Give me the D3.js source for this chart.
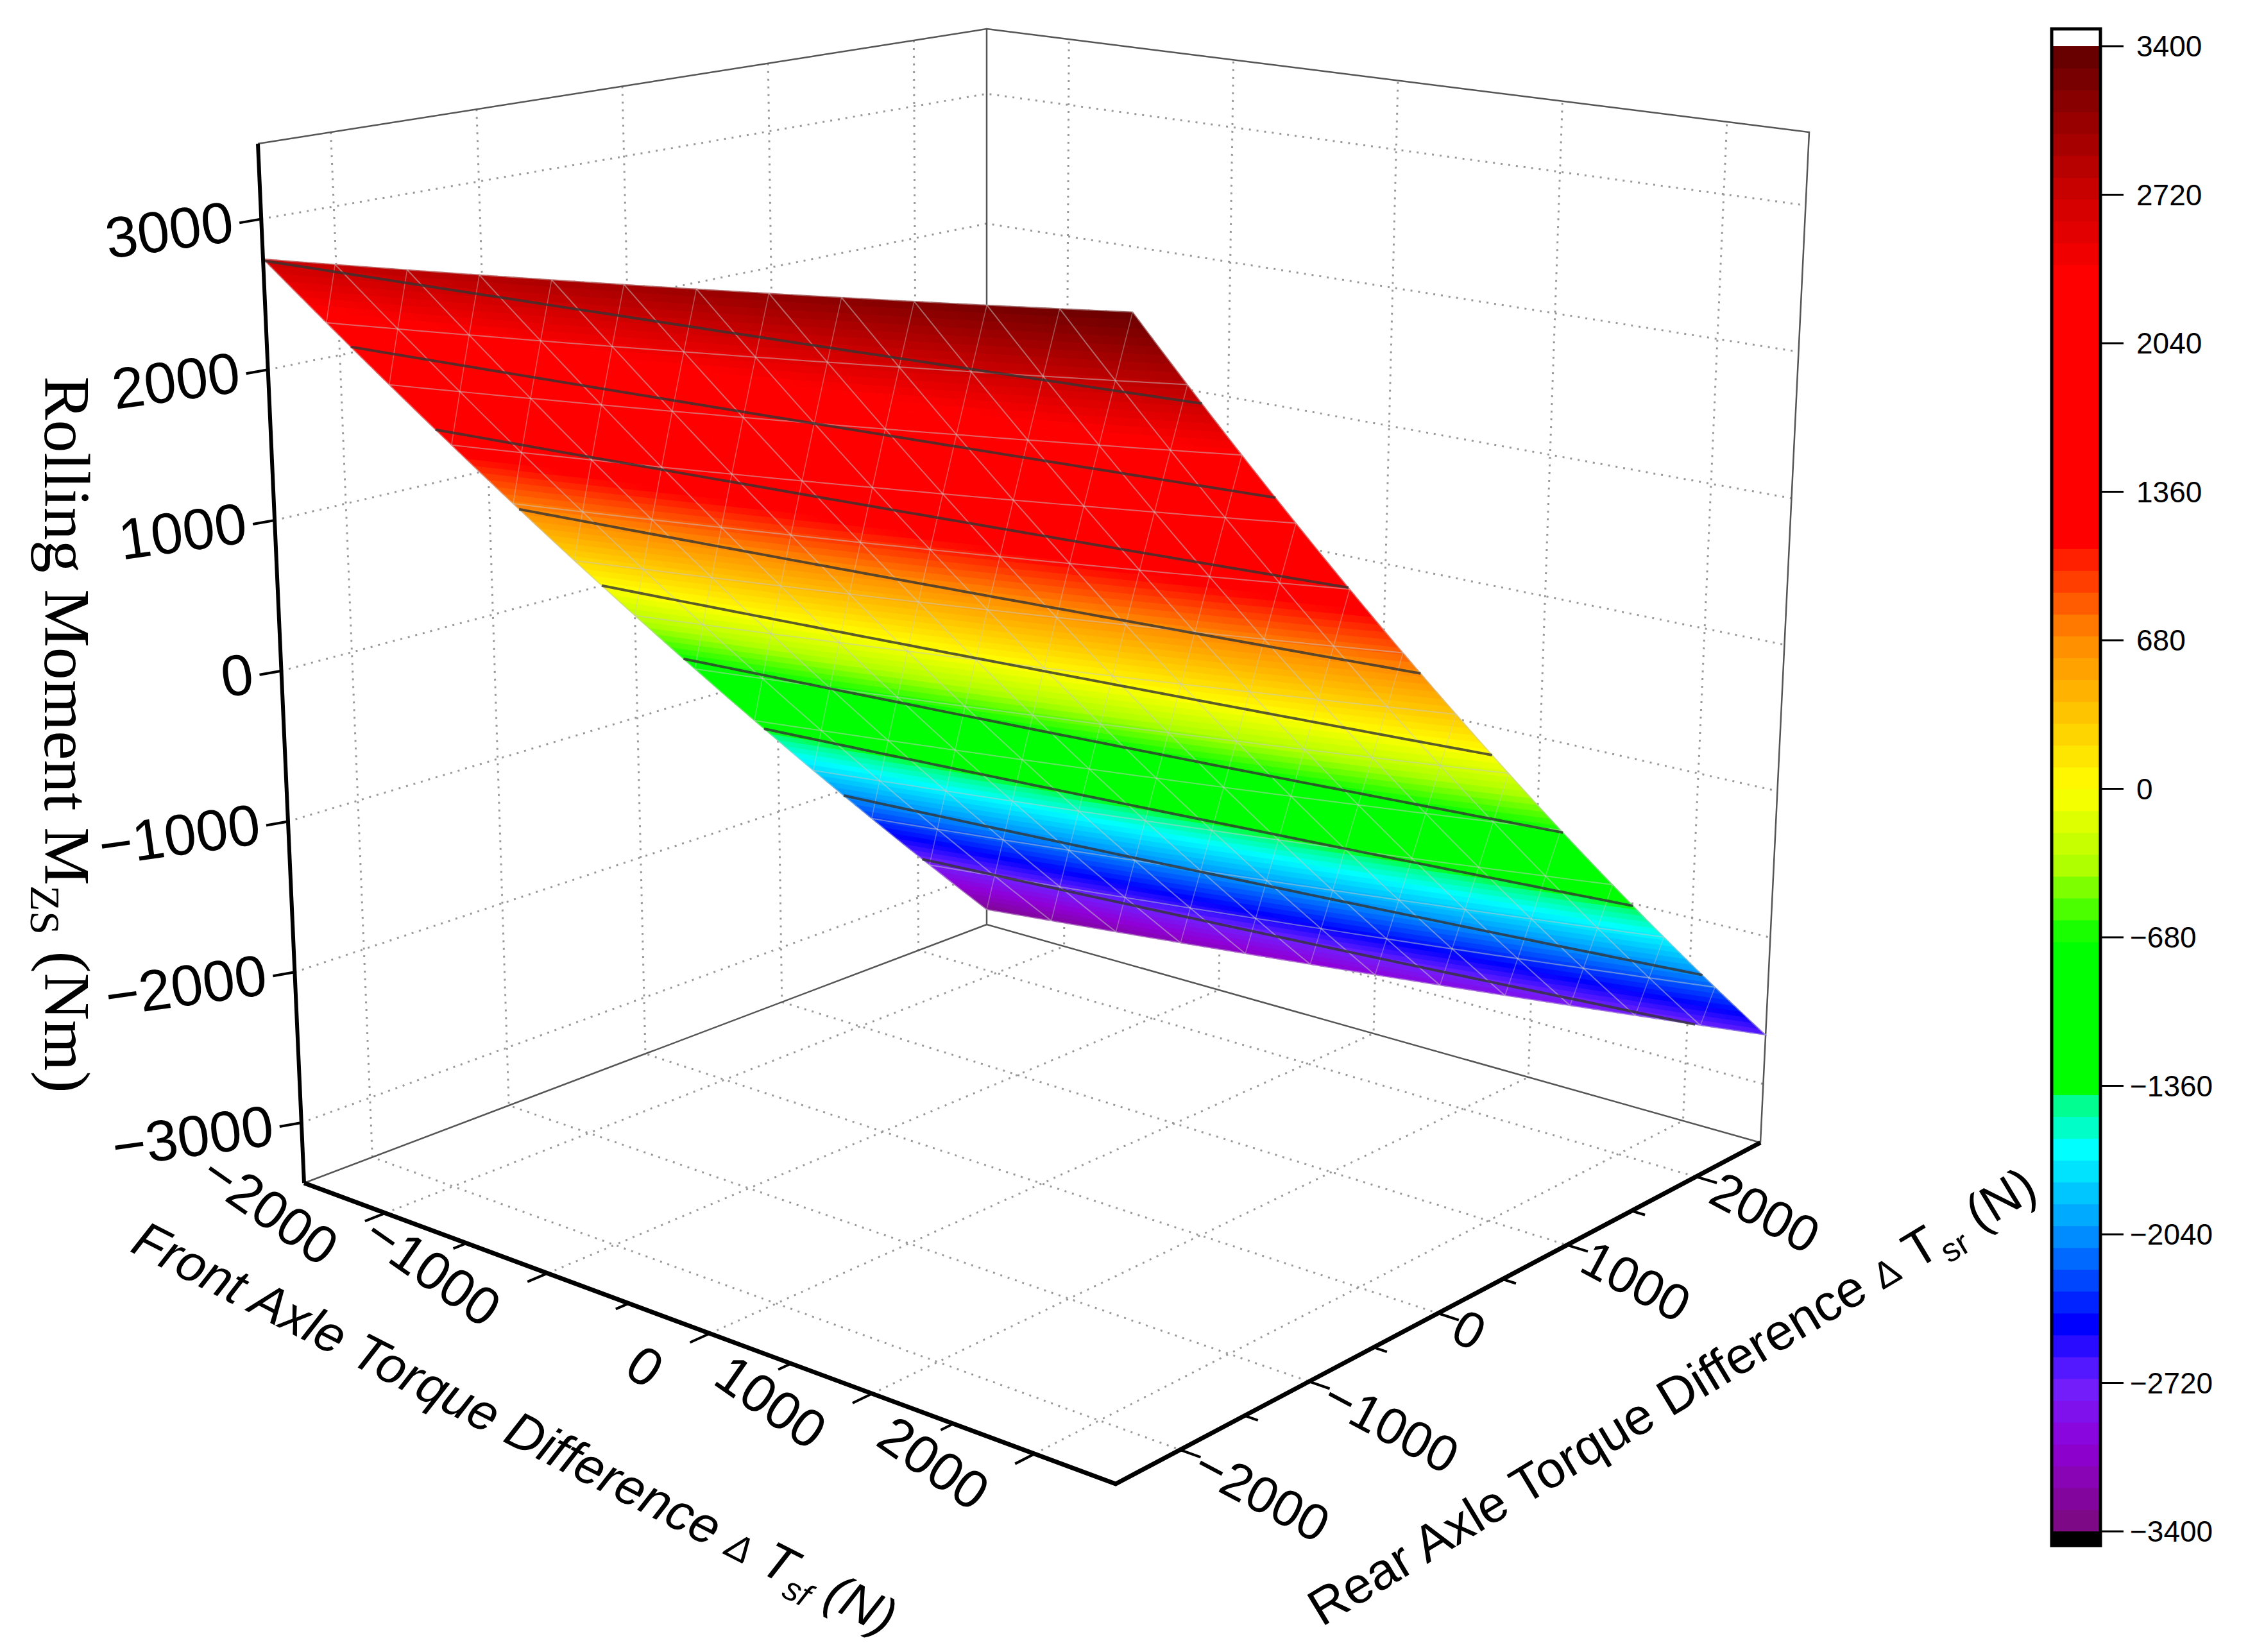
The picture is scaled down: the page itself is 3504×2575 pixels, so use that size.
<!DOCTYPE html>
<html><head><meta charset="utf-8">
<script src="https://cdn.jsdelivr.net/npm/d3@7"></script>
<style>body{margin:0;background:#fff}</style></head>
<body><svg id="c" width="3504" height="2575"></svg>
<script>
// ---- data ----
const frontGrid = [-2500,-1500,-500,500,1500,2500];   // Front axle ΔTsf (N)
const rearGrid  = [-2500,-1500,-500,500,1500,2500];   // Rear axle ΔTsr (N)
// Rolling moment Mzs (Nm); rows = rear values, cols = front values
const mzRows = [
 [2735,2859,2983,3107,3231,3355],
 [1531,1655,1779,1903,2027,2151],
 [327,451,575,699,823,947],
 [-877,-753,-629,-505,-381,-257],
 [-2081,-1957,-1833,-1709,-1585,-1461],
 [-3285,-3161,-3037,-2913,-2789,-2665]
];
const xyTicks = [-2000,-1000,0,1000,2000];
const zTicks = [-3000,-2000,-1000,0,1000,2000,3000];
const cbTicks = [3400,2720,2040,1360,680,0,-680,-1360,-2040,-2720,-3400];
const contourLevels = [-2720,-2040,-1360,-680,0,680,1360,2040,2720];
const cmapStops = [-3400,-3000,-2720,-2450,-2040,-1650,-1450,-1360,-700,-350,0,300,680,1000,1150,2350,2720,3400];
const cmapColors = ["#7a0a7a","#9000d8","#7020ff","#0000ff","#0090ff","#00ffff","#00ff90","#00ff00","#00ff00","#b0ff00","#ffff00","#ffcc00","#ff8c00","#ff3000","#ff0000","#ff0000","#cc0000","#600000"];

// ---- scene geometry ----
const svg = d3.select("#c");
const color = d3.scaleLinear().domain(cmapStops).range(cmapColors).clamp(true);
const uS = d3.scaleLinear().domain([-2500,2500]).range([0,1]);
const vS = d3.scaleLinear().domain([-2500,2500]).range([0,1]);
const tS = d3.scaleLinear().domain([-3400,3500]).range([0,1]);
const C = { // [bottom x,y, top x,y]
  L:[474,1844,402,224], Fr:[1739,2313,1766,447], B:[1538,1441,1538,45], Rt:[2744,1781,2820,206]
};
function proj(F,R,z){
  const u=uS(F), v=vS(R), t=tS(z);
  const p=[];
  for(let k=0;k<4;k++) p.push((1-u)*(1-v)*C.L[k]+u*(1-v)*C.Fr[k]+(1-u)*v*C.B[k]+u*v*C.Rt[k]);
  return [p[0]+t*(p[2]-p[0]), p[1]+t*(p[3]-p[1])];
}
const line = d3.line();
const Z0=-3400, Z1=3500, E0=-2500, E1=2500;

// walls & floor gridlines
const g = svg.append("g");
const dotted = (pts)=>g.append("path").attr("d",line(pts)).attr("fill","none").attr("stroke","#999").attr("stroke-width",3).attr("stroke-dasharray","3,9");
xyTicks.forEach(t=>{
  dotted([proj(t,E0,Z0),proj(t,E1,Z0),proj(t,E1,Z1)]);
  dotted([proj(E0,t,Z1),proj(E0,t,Z0),proj(E1,t,Z0)]);
});
zTicks.forEach(z=>dotted([proj(E0,E0,z),proj(E0,E1,z),proj(E1,E1,z)]));
const thin = (pts,w)=>g.append("path").attr("d",line(pts)).attr("fill","none").attr("stroke","#555").attr("stroke-width",w||2.5);
thin([proj(E0,E0,Z1),proj(E0,E1,Z1),proj(E1,E1,Z1),proj(E1,E1,Z0)]);
thin([proj(E0,E1,Z1),proj(E0,E1,Z0)]);
thin([proj(E0,E0,Z0),proj(E0,E1,Z0),proj(E1,E1,Z0)]);

// ---- surface ----
function zAt(F,R){
  const i = Math.min(4, Math.max(0, Math.floor((R+2500)/1000)));
  const j = Math.min(4, Math.max(0, Math.floor((F+2500)/1000)));
  const a=(F-frontGrid[j])/1000, b=(R-rearGrid[i])/1000;
  return (1-a)*(1-b)*mzRows[i][j]+a*(1-b)*mzRows[i][j+1]+(1-a)*b*mzRows[i+1][j]+a*b*mzRows[i+1][j+1];
}
const sg = svg.append("g");
const N=100, step=5000/N;
for(let i=0;i<N;i++)for(let j=0;j<N;j++){
  const F0=E0+j*step,F1=F0+step,R0=E0+i*step,R1=R0+step;
  const zc=zAt((F0+F1)/2,(R0+R1)/2);
  const pts=[proj(F0,R0,zAt(F0,R0)),proj(F1,R0,zAt(F1,R0)),proj(F1,R1,zAt(F1,R1)),proj(F0,R1,zAt(F0,R1))];
  sg.append("path").attr("d",line(pts)+"Z").attr("fill",color(zc)).attr("stroke",color(zc)).attr("stroke-width",1.2);
}
const meshVals = d3.range(E0,E1+1,5000/12);
meshVals.forEach(m=>{
  const a=d3.range(E0,E1+1,100).map(r=>proj(m,r,zAt(m,r)));
  const b=d3.range(E0,E1+1,100).map(f=>proj(f,m,zAt(f,m)));
  [a,b].forEach(p=>sg.append("path").attr("d",line(p)).attr("fill","none").attr("stroke","rgba(200,200,200,0.5)").attr("stroke-width",2));
});
for(let k=0;k<12;k++){
  for(let l=0;l<12;l++){
    const f0=meshVals[k],f1=meshVals[k+1],r0=meshVals[l],r1=meshVals[l+1];
    const p=d3.range(0,1.001,0.1).map(s=>{const f=f0+s*(f1-f0), r=r1+s*(r0-r1);return proj(f,r,zAt(f,r));});
    sg.append("path").attr("d",line(p)).attr("fill","none").attr("stroke","rgba(200,200,200,0.4)").attr("stroke-width",1.6);
  }
}
contourLevels.forEach(lv=>{
  const pts=[];
  for(let F=E0;F<=E1;F+=50){
    let lo=E0,hi=E1;
    if((zAt(F,lo)-lv)*(zAt(F,hi)-lv)>0) continue;
    for(let it=0;it<30;it++){const m=(lo+hi)/2; if(zAt(F,m)>lv) lo=m; else hi=m;}
    pts.push(proj(F,lo,lv));
  }
  if(pts.length>1) sg.append("path").attr("d",line(pts)).attr("fill","none").attr("stroke","#333").attr("stroke-width",4).attr("opacity",0.8);
});

// ---- axes ----
const ax = svg.append("g");
const font="Liberation Sans, Arial, sans-serif";
ax.append("path").attr("d",line([proj(E0,E0,Z0),proj(E0,E0,Z1)])).attr("stroke","#000").attr("stroke-width",6).attr("fill","none");
zTicks.forEach(z=>{
  const p=proj(E0,E0,z);
  ax.append("line").attr("x1",p[0]).attr("y1",p[1]).attr("x2",p[0]-34).attr("y2",p[1]+6).attr("stroke","#000").attr("stroke-width",4);
  ax.append("text").attr("transform",`translate(${p[0]-40},${p[1]+34}) rotate(-8)`).attr("text-anchor","end")
    .attr("font-family",font).attr("font-size",90).text(String(z).replace("-","−"));
});
ax.append("path").attr("d",line([proj(E0,E0,Z0),proj(E1,E0,Z0),proj(E1,E1,Z0)])).attr("stroke","#000").attr("stroke-width",7).attr("fill","none");
d3.range(-2000,2001,500).forEach(t=>{
  const p=proj(t,E0,Z0), q=proj(t,E0-300,Z0);
  const dx=q[0]-p[0], dy=q[1]-p[1], n=Math.hypot(dx,dy);
  const len = t%1000===0?34:22;
  ax.append("line").attr("x1",p[0]).attr("y1",p[1]).attr("x2",p[0]+dx/n*len).attr("y2",p[1]+dy/n*len).attr("stroke","#000").attr("stroke-width",4);
  if(t%1000===0){
    ax.append("text").attr("transform",`translate(${p[0]+dx/n*70},${p[1]+dy/n*70+10}) rotate(35)`).attr("text-anchor","end")
      .attr("dominant-baseline","hanging").attr("font-family",font).attr("font-size",84).text(String(t).replace("-","−"));
  }
  const r=proj(E1,t,Z0), s=proj(E1+300,t,Z0);
  const ex=s[0]-r[0], ey=s[1]-r[1], m=Math.hypot(ex,ey);
  ax.append("line").attr("x1",r[0]).attr("y1",r[1]).attr("x2",r[0]+ex/m*len).attr("y2",r[1]+ey/m*len).attr("stroke","#000").attr("stroke-width",4);
  if(t%1000===0){
    ax.append("text").attr("transform",`translate(${r[0]+ex/m*45},${r[1]+ey/m*45-25}) rotate(28)`).attr("text-anchor","start")
      .attr("dominant-baseline","hanging").attr("font-family",font).attr("font-size",80).text(String(t).replace("-","−"));
  }
});
ax.append("text").attr("transform","translate(790,2250) rotate(27)").attr("text-anchor","middle").attr("font-family",font)
  .attr("font-style","italic").attr("font-size",80)
  .html('Front Axle Torque Difference <tspan font-size="58">Δ</tspan> T<tspan font-size="52" dy="18">sf</tspan><tspan dy="-18"> (N)</tspan>');
ax.append("text").attr("transform","translate(2620,2200) rotate(-31)").attr("text-anchor","middle").attr("font-family",font)
  .attr("font-size",80)
  .html('Rear Axle Torque Difference <tspan font-size="58">Δ</tspan> T<tspan font-size="52" dy="18">sr</tspan><tspan dy="-18"> (N)</tspan>');
ax.append("text").attr("transform","translate(70,1145) rotate(90)").attr("text-anchor","middle").attr("font-family","Liberation Serif, Times New Roman, serif")
  .attr("font-size",102)
  .html('Rolling Moment M<tspan font-size="66" dy="22">ZS</tspan><tspan dy="-22"> (Nm)</tspan>');

// ---- colorbar ----
const cb = svg.append("g");
const cy = d3.scaleLinear().domain([3400,-3400]).range([72,2387]);
cb.append("rect").attr("x",3200).attr("y",45).attr("width",72).attr("height",27).attr("fill","#fff");
d3.range(-3400,3400,100).forEach(v=>cb.append("rect").attr("x",3200).attr("y",cy(v+100)).attr("width",72).attr("height",cy(v)-cy(v+100)+0.8).attr("fill",color(v+50)));
cb.append("rect").attr("x",3200).attr("y",2387).attr("width",72).attr("height",22).attr("fill","#000");
cb.append("rect").attr("x",3198).attr("y",45).attr("width",76).attr("height",2364).attr("fill","none").attr("stroke","#000").attr("stroke-width",5);
cbTicks.forEach(v=>{
  cb.append("line").attr("x1",3274).attr("x2",3310).attr("y1",cy(v)).attr("y2",cy(v)).attr("stroke","#000").attr("stroke-width",3);
  cb.append("text").attr("x",v<0?3320:3330).attr("y",cy(v)+16).attr("font-family",font).attr("font-size",46).text(String(v).replace("-","−"));
});
</script></body></html>
